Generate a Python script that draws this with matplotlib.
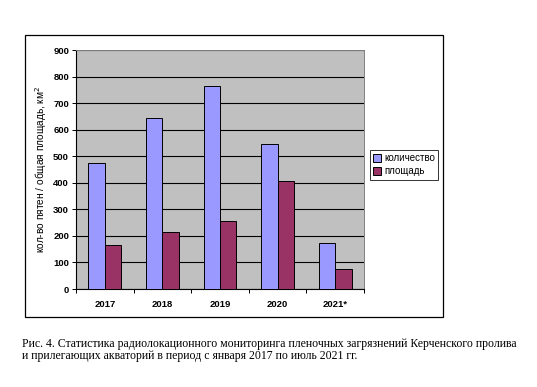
import matplotlib.pyplot as plt
import numpy as np
from matplotlib.patches import Rectangle

plt.rcParams["font.family"] = ["Liberation Sans", "DejaVu Sans"]

years = ["2017", "2018", "2019", "2020", "2021*"]
kolichestvo = [473, 643, 763, 545, 172]
ploshchad = [164, 213, 255, 405, 75]
yticks = [0, 100, 200, 300, 400, 500, 600, 700, 800, 900]

fig = plt.figure(figsize=(5.37, 3.87), dpi=100)

# outer chart frame
fig.patches.append(Rectangle((0.0466, 0.181), 0.778, 0.729, transform=fig.transFigure,
                             fill=False, edgecolor="black", linewidth=0.9))

ax = fig.add_axes([0.1415, 0.2532, 0.5363, 0.6176])
ax.set_facecolor("#c0c0c0")
x = np.arange(len(years))
w = 0.286
ax.bar(x - w / 2, kolichestvo, w, color="#9999ff", edgecolor="black", linewidth=0.7,
       label="количество", zorder=3)
ax.bar(x + w / 2, ploshchad, w, color="#993366", edgecolor="black", linewidth=0.7,
       label="площадь", zorder=3)

ax.set_xlim(-0.5, len(years) - 0.5)
ax.set_ylim(0, 900)
ax.set_yticks(yticks)
ax.set_yticklabels([str(v) for v in yticks], fontsize=6.8, fontweight="bold")
ax.yaxis.grid(True, color="black", linewidth=0.8, zorder=1)
ax.set_axisbelow(True)
ax.set_xticks(np.arange(len(years) + 1) - 0.5)
ax.set_xticklabels([])
ax.set_xticks(x, minor=True)
ax.set_xticklabels(years, minor=True, fontsize=6.8, fontweight="bold")
ax.tick_params(axis="x", which="minor", length=0, pad=8)
ax.tick_params(axis="x", which="major", length=3, width=0.7)
ax.tick_params(axis="y", length=3, width=0.7, pad=2)
for side in ["top", "right"]:
    ax.spines[side].set_color("#808080")
    ax.spines[side].set_linewidth(0.7)
ax.spines["left"].set_linewidth(0.8)
ax.spines["bottom"].set_linewidth(0.8)
ax.set_ylabel("кол-во пятен / общая площадь, км$^2$", fontsize=7.3, labelpad=3)

leg = fig.legend(loc="center left", bbox_to_anchor=(0.689, 0.574), fontsize=7,
                 frameon=True, fancybox=False, edgecolor="black", handlelength=0.8,
                 handleheight=0.8, handletextpad=0.3, borderpad=0.35, labelspacing=0.3,
                 borderaxespad=0)
leg.get_frame().set_linewidth(0.7)

serif = ["Liberation Serif", "DejaVu Serif"]
fig.text(0.041, 0.104, "Рис. 4. Статистика радиолокационного мониторинга пленочных загрязнений "
         "Керченского пролива", fontsize=8.5, family=serif, va="baseline")
fig.text(0.041, 0.073, "и прилегающих акваторий в период с января 2017 по июль 2021 гг.",
         fontsize=8.5, family=serif, va="baseline")

fig.savefig("out.png", dpi=100)
